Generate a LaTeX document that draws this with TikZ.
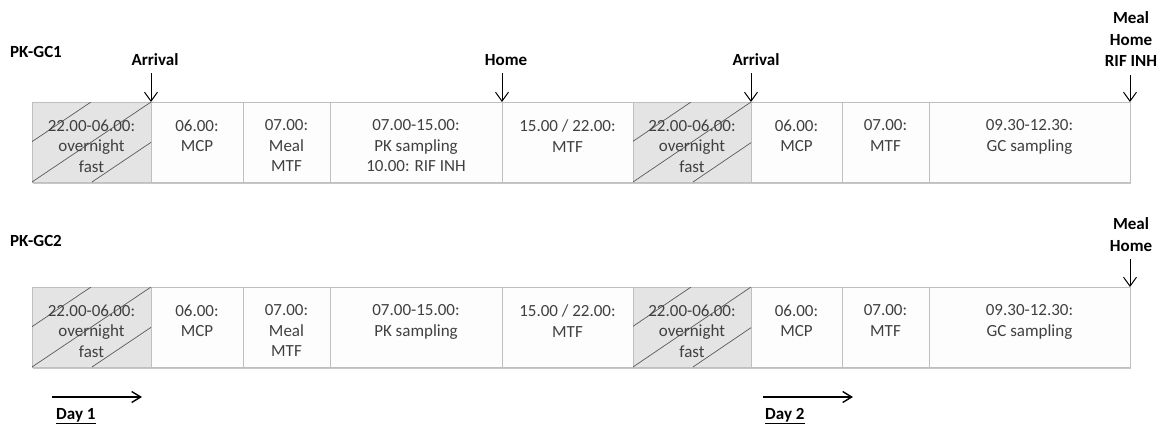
\documentclass[tikz,border=0pt]{standalone}
\usepackage{fontspec}
\setmainfont{Carlito}
\usetikzlibrary{arrows.meta,shadows}
\definecolor{cellborder}{HTML}{BFBFBF}
\definecolor{cellgray}{HTML}{E4E4E4}
\definecolor{cellwhite}{HTML}{FDFDFD}
\definecolor{celltext}{HTML}{404040}
\definecolor{hatchcol}{HTML}{5A5A5A}
\begin{document}
\begin{tikzpicture}[x=1pt,y=-1pt,
  cellbase/.style={draw=cellborder, line width=0.9pt, minimum height=80pt, inner sep=0pt, outer sep=0pt,
    drop shadow={shadow xshift=0.5pt, shadow yshift=-2pt, opacity=0.22, fill=black}},
  whitecell/.style={cellbase, fill=cellwhite},
  graycell/.style={cellbase, fill=cellgray},
  celltxt/.style={anchor=north, inner sep=0pt, align=center, text=celltext, font=\fontsize{17}{20.5}\selectfont},
  lbl/.style={inner sep=0pt, font=\bfseries\fontsize{17}{21.5}\selectfont},
  arr/.style={line width=1pt, -{Straight Barb[length=9pt,width=13pt]}},
  dayarr/.style={line width=1.4pt, -{Straight Barb[length=9pt,width=11pt]}},
  hatchline/.style={draw=hatchcol, line width=0.7pt}
]
\useasboundingbox (0,0) rectangle (1163,429);

% cells
\foreach \r/\yc in {t/142, b/327}{
  \foreach \n/\a/\b/\s in {1/32/151/graycell, 2/151/243/whitecell, 3/243/330/whitecell, 4/330/502/whitecell,
                           5/502/633/whitecell, 6/633/751/graycell, 7/751/842/whitecell, 8/842/929/whitecell,
                           9/929/1130/whitecell}{
    \node[\s, minimum width={(\b-\a)*1pt}] (\r\n) at ({(\a+\b)/2},\yc) {};
  }
  \foreach \g in {1,6}{
    \begin{scope}
      \clip (\r\g.south west) rectangle (\r\g.north east);
      \foreach \d in {-60,0,60}
        \draw[hatchline] ([xshift=\d pt]\r\g.south west) -- ([xshift=\d pt]\r\g.north east);
    \end{scope}
  }
}

% cell texts, top row
\node[celltxt] (tx1) at ([yshift=-17.5pt]t1.north) {22.00-06.00:\\overnight\\fast};
\node[celltxt] (tx2) at ([yshift=-17.5pt]t2.north) {06.00:\\MCP};
\node[celltxt] (tx3) at ([yshift=-17.5pt]t3.north) {07.00:\\Meal\\MTF};
\node[celltxt] (tx4) at ([yshift=-17.5pt]t4.north) {07.00-15.00:\\PK sampling\\10.00: RIF INH};
\node[celltxt] (tx5) at ([yshift=-17.5pt]t5.north) {15.00 / 22.00:\\MTF};
\node[celltxt] (tx6) at ([yshift=-17.5pt]t6.north) {22.00-06.00:\\overnight\\fast};
\node[celltxt] (tx7) at ([yshift=-17.5pt]t7.north) {06.00:\\MCP};
\node[celltxt] (tx8) at ([yshift=-17.5pt]t8.north) {07.00:\\MTF};
\node[celltxt] (tx9) at ([yshift=-17.5pt]t9.north) {09.30-12.30:\\GC sampling};

% cell texts, bottom row
\node[celltxt] (bx1) at ([yshift=-17.5pt]b1.north) {22.00-06.00:\\overnight\\fast};
\node[celltxt] (bx2) at ([yshift=-17.5pt]b2.north) {06.00:\\MCP};
\node[celltxt] (bx3) at ([yshift=-17.5pt]b3.north) {07.00:\\Meal\\MTF};
\node[celltxt] (bx4) at ([yshift=-17.5pt]b4.north) {07.00-15.00:\\PK sampling};
\node[celltxt] (bx5) at ([yshift=-17.5pt]b5.north) {15.00 / 22.00:\\MTF};
\node[celltxt] (bx6) at ([yshift=-17.5pt]b6.north) {22.00-06.00:\\overnight\\fast};
\node[celltxt] (bx7) at ([yshift=-17.5pt]b7.north) {06.00:\\MCP};
\node[celltxt] (bx8) at ([yshift=-17.5pt]b8.north) {07.00:\\MTF};
\node[celltxt] (bx9) at ([yshift=-17.5pt]b9.north) {09.30-12.30:\\GC sampling};

% labels top
\node[lbl, anchor=base west] (pk1) at (10,57) {PK-GC1};
\node[lbl, anchor=base] (arr1) at (155,65) {Arrival};
\node[lbl, anchor=base] (home1) at (506,65) {Home};
\node[lbl, anchor=base] (arr2) at (756,65) {Arrival};
\node[lbl, anchor=north, align=center] (end1) at (1131,11.5) {Meal\\Home\\RIF INH};

\draw[arr] ([yshift=-8pt]arr1.south -| t1.north east) -- (t1.north east);
\draw[arr] ([yshift=-8pt]home1.south -| t4.north east) -- (t4.north east);
\draw[arr] ([yshift=-8pt]arr2.south -| t6.north east) -- (t6.north east);
\draw[arr] ([yshift=-8pt]end1.south -| t9.north east) -- (t9.north east);

% labels bottom
\node[lbl, anchor=base west] (pk2) at (10,246) {PK-GC2};
\node[lbl, anchor=north, align=center] (end2) at (1131,217.5) {Meal\\Home};
\draw[arr] ([yshift=-8pt]end2.south -| b9.north east) -- (b9.north east);

% day arrows
\coordinate (d1s) at (52,397);
\coordinate (d1e) at (142,397);
\coordinate (d2s) at (763,397);
\coordinate (d2e) at (853,397);
\draw[dayarr] (d1s) -- (d1e);
\draw[dayarr] (d2s) -- (d2e);
\node[lbl, anchor=base west] (day1) at (56,419) {\underline{Day 1}};
\node[lbl, anchor=base west] (day2) at (765,419) {\underline{Day 2}};
\end{tikzpicture}
\end{document}
